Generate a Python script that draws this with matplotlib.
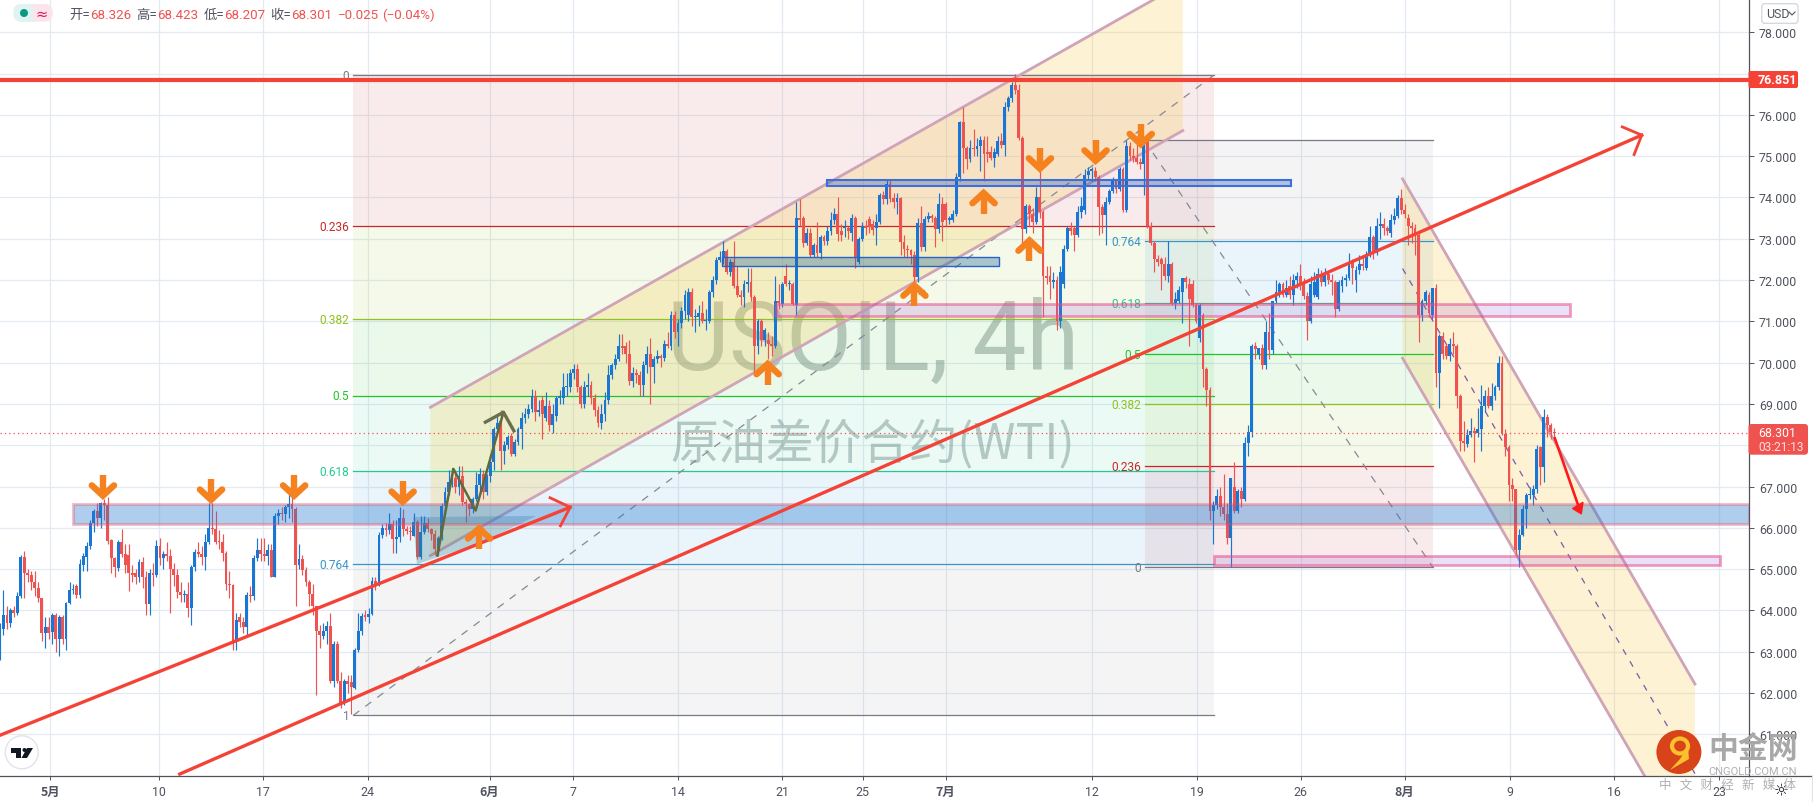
import matplotlib
matplotlib.use("Agg")
import matplotlib.pyplot as plt
from matplotlib.lines import Line2D
from matplotlib.patches import Ellipse, FancyBboxPatch, Polygon, Rectangle
from matplotlib.transforms import IdentityTransform

W, H = 1813, 803

# candles, one row = 10 bars (4h)
opens = [
    62.95,63.55,63.9,63.7,64.0,63.95,64.35,65.3,64.9,64.85,
    64.7,64.55,64.3,63.45,63.6,63.47,63.9,63.3,63.85,63.3,
    64.18,64.5,64.6,64.38,65.1,65.3,65.57,66.13,66.4,66.25,
    66.6,66.55,65.7,65.28,65.02,65.65,65.38,65.35,64.9,64.9,
    64.8,65.18,64.8,64.16,64.92,64.85,65.57,65.27,65.37,65.33,
    65.0,64.85,64.45,64.38,64.4,64.05,65.05,65.42,65.37,65.3,
    65.66,66.0,65.97,65.67,65.65,65.4,64.65,64.62,63.27,63.85,
    63.72,63.6,64.38,64.35,65.26,65.46,65.37,65.33,65.46,64.82,
    66.3,66.37,66.33,66.5,66.57,66.45,65.1,65.25,64.97,64.7,
    64.4,64.1,63.5,63.38,63.5,63.62,62.3,63.2,62.3,61.77,
    62.3,62.28,62.12,63.05,63.5,63.87,63.85,63.92,64.72,64.65,
    65.83,66.0,65.95,66.1,65.72,65.78,66.23,65.97,65.93,65.8,
    66.15,65.3,65.9,66.13,65.97,65.85,65.45,65.75,66.52,66.86,
    67.1,67.2,66.98,67.25,66.62,66.58,66.45,66.7,67.03,67.3,
    66.88,67.25,67.6,68.4,68.6,67.87,68.0,68.22,67.8,68.07,
    68.4,68.65,68.75,68.88,69.2,68.8,69.1,68.67,68.95,68.5,
    68.72,69.15,69.15,69.4,69.4,69.75,69.85,69.4,69.0,69.4,
    69.45,69.15,68.85,68.55,68.75,69.1,69.7,69.95,70.1,70.4,
    70.4,70.2,69.55,69.75,69.7,69.45,69.95,70.2,69.9,70.1,
    70.15,70.12,70.45,70.4,71.15,70.75,70.95,71.25,71.15,71.7,
    71.1,71.1,71.2,71.0,71.0,71.72,72.0,72.48,72.55,72.7,
    72.2,72.45,71.85,71.65,71.6,71.9,71.95,71.6,70.4,71.0,
    70.55,70.55,70.45,70.4,71.5,71.42,72.1,71.9,71.9,71.4,
    73.5,73.5,72.9,73.15,72.6,72.85,72.65,73.05,72.95,73.2,
    73.45,73.6,73.2,73.25,73.25,73.15,73.5,72.45,73.0,73.3,
    73.47,73.35,73.25,73.4,74.05,73.97,74.33,73.98,73.9,73.98,
    72.92,72.75,72.72,72.6,72.07,73.38,72.8,73.47,73.55,73.5,
    73.23,73.85,73.85,73.45,73.45,73.6,74.5,75.83,75.2,74.93,
    75.2,75.18,75.25,75.4,75.1,75.1,74.95,75.05,75.37,75.27,
    76.18,76.4,76.72,76.6,75.45,73.24,73.8,73.6,73.4,74.0,
    73.65,72.1,72.1,71.95,72.0,71.02,71.9,72.75,73.25,73.25,
    73.1,73.65,73.7,74.55,74.65,74.65,74.5,73.78,73.57,73.9,
    74.15,74.4,74.2,74.7,73.7,75.25,75.0,74.95,74.85,74.8,
    75.37,73.3,72.9,72.5,72.5,72.4,72.1,72.4,71.45,71.5,
    71.7,72.05,71.9,71.9,71.4,70.6,71.15,69.85,69.35,66.4,
    66.55,66.77,66.5,66.33,65.75,67.0,66.4,66.9,66.7,68.05,
    68.33,70.4,70.2,70.35,69.95,70.75,70.3,71.5,71.7,71.9,
    71.65,71.85,71.65,72.0,72.1,71.9,71.62,71.0,71.65,71.6,
    72.15,71.95,72.15,72.0,71.95,71.3,71.85,72.0,72.05,72.45,
    72.0,72.25,72.4,72.3,72.6,73.05,72.65,73.3,73.37,73.25,
    73.15,73.45,73.55,73.98,73.7,73.5,73.3,73.25,73.1,71.15,
    71.5,71.65,71.15,71.8,69.75,70.65,70.4,70.15,70.45,70.4,
    69.2,68.1,68.03,68.25,68.35,68.3,68.4,68.95,69.2,68.95,
    69.2,69.4,70.0,68.27,67.97,67.05,66.93,65.47,65.83,66.45,
    66.8,66.8,66.95,67.95,67.47,68.68,68.5,68.326,
]
highs = [
    63.7,64.5,64.1,64.05,64.1,64.45,65.35,65.45,65.0,64.95,
    64.95,64.7,64.3,63.85,63.85,63.95,63.95,63.9,63.9,64.2,
    64.7,64.65,64.65,65.25,65.4,65.65,66.2,66.45,66.6,66.62,
    66.7,66.75,65.72,65.3,65.7,65.98,65.6,65.6,65.1,65.0,
    65.25,65.3,64.95,65.0,65.15,65.7,65.75,65.45,65.65,65.5,
    65.15,65.0,64.7,64.5,64.7,65.1,65.5,65.65,65.55,65.85,
    66.6,66.6,66.42,65.95,65.85,65.45,64.95,64.65,63.95,63.95,
    63.85,64.45,64.6,65.35,65.75,65.75,65.75,65.6,65.6,66.35,
    66.45,66.5,66.55,67.0,66.9,66.5,65.6,65.35,65.05,64.75,
    64.65,64.12,63.65,63.7,63.75,63.95,63.25,63.25,62.5,62.35,
    62.45,62.45,63.1,63.95,63.95,64.0,64.05,64.8,64.8,65.9,
    66.1,66.12,66.35,66.2,66.2,66.5,66.45,66.05,66.05,66.35,
    66.2,66.3,66.3,66.25,66.0,65.95,65.8,66.6,67.0,67.4,
    67.45,67.3,67.5,67.5,66.7,66.6,66.75,67.35,67.45,67.4,
    67.3,67.75,68.45,68.75,68.85,68.1,68.25,68.3,68.15,68.45,
    68.8,68.9,69.0,69.37,69.35,69.1,69.2,69.3,69.1,69.0,
    69.2,69.35,69.75,69.75,69.85,69.98,69.98,69.45,69.55,69.75,
    69.55,69.25,68.95,69.0,69.3,69.95,70.0,70.2,70.7,70.7,
    70.5,70.55,69.9,69.85,69.8,70.05,70.4,70.6,70.15,70.3,
    70.2,70.55,70.75,71.25,71.25,71.05,71.35,71.75,71.8,71.8,
    71.3,71.4,71.5,71.3,71.75,72.1,72.55,72.7,72.95,72.75,
    72.5,72.95,72.35,71.75,72.0,72.3,72.3,71.65,71.05,71.05,
    70.85,70.75,70.65,72.1,71.9,71.95,72.4,72.0,71.95,73.9,
    73.96,73.55,73.25,73.25,72.9,73.4,73.1,73.1,73.3,73.65,
    73.75,74.0,73.35,73.45,73.3,73.6,73.55,73.05,73.4,73.45,
    73.55,73.45,73.6,74.1,74.15,74.45,74.45,74.1,74.1,74.0,
    73.1,72.85,72.75,72.7,73.5,73.8,73.55,73.65,73.6,73.55,
    74.1,74.0,73.9,73.55,73.7,74.6,75.85,76.2,75.25,75.4,
    75.65,75.45,75.5,75.5,75.5,75.25,75.2,75.5,75.55,76.3,
    76.45,76.8,76.98,76.75,75.5,73.85,73.85,73.75,74.25,74.85,
    73.7,72.35,72.35,72.2,72.1,72.35,72.85,73.3,73.4,73.3,
    73.8,74.0,74.7,74.75,74.75,74.75,74.55,73.85,74.0,74.2,
    74.5,74.45,74.75,74.75,75.4,75.35,75.2,75.5,74.95,75.4,
    75.4,73.4,72.95,72.6,72.55,72.55,72.95,72.45,71.7,71.85,
    72.05,72.1,72.05,72.0,71.45,71.45,71.2,69.9,69.4,66.65,
    66.95,67.0,67.3,66.6,67.2,67.6,66.95,67.0,68.2,68.5,
    70.45,70.5,70.35,70.45,71.0,71.2,71.5,72.0,71.95,71.95,
    72.0,72.1,72.15,72.2,72.4,72.05,71.7,72.1,72.2,72.3,
    72.25,72.3,72.2,72.15,72.0,72.0,72.1,72.15,72.65,72.5,
    72.35,72.6,72.55,72.7,73.3,73.1,73.5,73.65,73.5,73.3,
    73.6,73.75,74.05,74.2,73.85,73.6,73.4,73.35,73.15,71.55,
    71.75,71.7,71.8,71.9,70.7,70.75,70.45,70.6,70.75,70.45,
    69.25,68.6,68.4,68.65,68.45,68.9,69.45,69.35,69.4,69.5,
    69.45,70.15,70.15,68.4,68.0,67.2,66.95,65.98,66.55,66.85,
    67.0,67.05,68.0,67.98,68.88,68.75,68.55,68.423,
]
lows = [
    62.8,63.4,63.55,63.6,63.85,63.9,64.3,64.3,64.7,64.5,
    64.35,64.2,63.25,63.1,63.3,63.2,63.0,62.9,63.2,63.05,
    64.15,64.4,64.3,64.3,64.95,64.95,65.5,65.9,66.05,66.0,
    66.2,65.6,64.9,64.8,64.95,65.3,64.9,64.48,64.7,64.65,
    64.7,64.55,63.9,63.88,64.6,64.8,65.1,65.0,65.2,63.95,
    64.6,64.3,64.2,64.2,63.85,63.66,64.95,65.3,65.1,64.97,
    65.6,65.85,65.62,65.5,65.2,64.5,64.3,63.05,63.05,63.6,
    63.45,63.4,64.2,64.25,65.2,65.2,65.2,65.1,64.8,64.8,
    66.1,66.2,66.15,66.25,66.15,64.1,65.0,64.85,64.6,64.1,
    63.9,61.95,63.1,63.3,63.2,62.25,62.15,62.25,61.65,61.7,
    62.0,61.5,62.1,63.0,63.4,63.75,63.7,63.9,64.5,64.6,
    65.75,65.8,65.85,65.4,65.4,65.65,65.8,65.85,65.7,65.8,
    65.25,65.25,65.85,65.9,65.7,65.35,65.35,65.7,66.4,66.8,
    67.0,66.85,66.8,66.55,66.15,66.3,66.35,66.65,66.9,66.7,
    66.8,67.1,67.4,68.3,67.4,67.55,67.9,67.75,67.75,68.0,
    67.9,68.55,68.65,68.8,68.6,68.7,68.15,68.6,68.35,68.3,
    68.6,69.0,69.0,69.2,69.3,69.6,69.3,68.9,68.9,69.2,
    69.0,68.7,68.45,68.4,68.6,69.0,69.6,69.85,70.05,70.2,
    70.0,69.45,69.4,69.5,69.2,69.2,69.75,69.0,69.5,70.0,
    69.9,70.05,70.35,70.3,70.6,70.4,70.85,71.05,71.0,70.9,
    70.75,70.9,70.95,70.8,70.95,71.6,71.9,72.45,72.4,72.15,
    72.1,71.8,71.6,71.4,71.35,71.7,71.5,69.75,70.2,70.4,
    70.4,70.1,70.15,70.35,71.3,71.35,71.85,71.75,71.4,71.15,
    73.3,72.8,72.85,72.55,72.55,72.55,72.5,72.85,72.85,73.1,
    73.35,72.95,72.95,73.05,73.0,72.95,72.3,72.4,72.95,73.1,
    73.15,73.1,72.85,73.35,73.85,73.85,73.9,73.75,73.6,72.6,
    72.55,72.55,72.4,71.95,71.95,72.7,72.7,73.4,73.4,72.8,
    73.15,72.95,73.3,73.35,73.4,73.55,74.4,74.6,74.7,74.85,
    75.0,75.0,74.65,74.4,74.85,74.9,74.75,75.0,75.2,75.0,
    76.1,76.3,76.5,75.4,72.9,73.15,73.3,73.15,73.35,73.5,
    71.1,71.9,71.55,71.8,70.8,70.85,71.8,72.7,73.1,72.7,
    73.05,73.5,73.6,74.45,74.4,74.4,73.1,73.15,72.85,73.85,
    74.1,74.1,74.15,73.65,73.65,74.9,74.85,74.8,74.7,74.05,
    73.25,72.85,72.2,72.35,71.75,72.0,71.95,71.4,71.3,71.45,
    70.95,71.8,70.4,71.35,70.95,70.5,69.4,68.95,66.2,65.6,
    66.45,66.3,66.2,65.6,65.05,66.35,66.35,66.5,66.65,67.75,
    68.2,70.1,70.1,69.85,69.85,70.1,70.2,71.45,71.6,71.6,
    71.6,71.55,71.4,71.8,71.75,71.55,70.55,70.95,71.6,71.55,
    71.85,71.85,71.9,71.65,71.1,71.25,71.7,71.85,72.0,71.9,
    71.7,72.15,72.25,72.25,72.55,72.5,72.6,73.0,73.1,73.1,
    73.05,73.35,73.5,73.6,73.5,72.85,72.9,72.6,70.5,71.0,
    71.4,71.1,71.05,69.4,68.9,70.1,70.1,70.05,70.2,68.9,
    67.85,67.85,67.95,68.2,67.6,68.2,67.85,68.8,68.9,68.85,
    69.1,69.35,68.25,67.75,66.65,66.65,65.35,65.05,65.8,66.0,
    66.7,66.55,66.85,67.05,67.1,68.2,68.15,68.207,
]
closes = [
    63.65,63.9,63.7,64.0,63.95,64.35,65.3,64.9,64.85,64.7,
    64.55,64.3,63.45,63.6,63.45,63.9,63.32,63.85,63.3,64.18,
    64.5,64.5,64.38,65.12,65.32,65.57,66.13,66.4,66.25,66.6,
    66.55,65.68,65.28,65.05,65.65,65.38,65.1,64.9,64.85,64.8,
    65.18,64.8,64.16,64.92,64.85,65.57,65.27,65.37,65.33,65.0,
    64.85,64.45,64.38,64.4,64.05,65.05,65.42,65.37,65.3,65.66,
    66.0,65.97,65.67,65.65,65.4,64.65,64.62,63.27,63.78,63.72,
    63.6,64.38,64.35,65.26,65.46,65.37,65.33,65.46,64.82,66.3,
    66.37,66.33,66.5,66.57,66.45,65.1,65.25,64.97,64.7,64.4,
    64.1,63.5,63.4,63.5,63.62,62.3,63.2,62.3,61.77,62.3,
    62.22,62.15,63.05,63.5,63.87,63.85,63.92,64.72,64.65,65.83,
    66.0,65.95,66.1,65.72,65.78,66.23,65.97,65.93,65.9,66.15,
    65.3,65.9,66.13,65.97,65.85,65.5,65.75,66.52,66.86,67.1,
    67.2,66.98,67.25,66.62,66.58,66.45,66.7,67.03,67.3,66.88,
    67.25,67.6,68.4,68.55,67.87,68.0,68.2,67.8,68.07,68.4,
    68.65,68.75,68.88,69.2,68.8,68.85,68.75,68.95,68.5,68.75,
    69.15,69.2,69.4,69.4,69.75,69.85,69.4,69.0,69.4,69.45,
    69.15,68.85,68.55,68.75,69.1,69.7,69.95,70.1,70.4,70.35,
    70.2,69.55,69.75,69.7,69.45,69.95,70.2,69.9,70.1,70.15,
    70.12,70.45,70.4,71.15,70.75,70.95,71.25,71.65,71.7,71.1,
    71.1,71.2,71.0,71.0,71.72,72.0,72.48,72.55,72.7,72.2,
    72.45,71.85,71.65,71.6,71.9,71.95,71.6,70.4,71.0,70.55,
    70.8,70.45,70.4,71.5,71.45,71.9,71.9,71.9,71.42,73.5,
    73.45,72.9,73.15,72.6,72.85,72.65,73.05,72.95,73.2,73.45,
    73.6,73.12,73.1,73.25,73.2,73.5,72.55,73.0,73.3,73.25,
    73.28,73.22,73.4,74.05,73.97,74.33,73.97,73.9,73.98,72.92,
    72.75,72.72,72.6,72.07,73.38,72.8,73.47,73.55,73.5,73.23,
    73.85,73.4,73.45,73.5,73.6,74.5,75.83,75.2,74.93,75.2,
    75.18,75.25,75.4,75.05,75.05,74.95,75.1,75.37,75.27,76.18,
    76.4,76.72,76.6,75.45,73.24,73.8,73.6,73.4,74.0,73.65,
    72.1,72.05,71.95,72.0,71.02,72.2,72.75,73.25,73.2,73.1,
    73.65,73.8,74.55,74.65,74.65,74.5,73.78,73.57,73.9,74.15,
    74.4,74.2,74.7,73.7,75.25,75.0,74.95,74.85,74.8,75.37,
    73.3,72.9,72.5,72.45,72.4,72.1,72.4,71.45,71.55,71.75,
    72.05,71.95,71.55,71.4,71.0,71.4,69.85,69.35,66.4,66.55,
    66.77,66.5,66.33,65.75,67.2,66.4,66.9,66.7,68.05,68.33,
    70.4,70.32,70.35,69.95,70.75,70.3,71.5,71.7,71.9,71.65,
    71.8,71.65,72.0,72.1,71.9,71.62,71.0,71.9,71.95,72.15,
    71.95,72.15,72.0,71.95,71.3,71.95,72.0,72.05,72.45,72.3,
    72.25,72.4,72.35,72.6,73.05,72.7,73.3,73.37,73.25,73.2,
    73.45,73.55,73.98,73.7,73.6,73.3,73.25,73.1,71.15,71.5,
    71.7,71.2,71.8,69.75,70.65,70.2,70.15,70.45,70.4,69.2,
    68.1,68.05,68.25,68.35,68.3,68.4,68.95,69.2,68.95,69.2,
    69.4,70.0,68.3,67.97,67.05,66.93,65.47,65.83,66.45,66.8,
    66.8,66.95,67.92,67.47,68.68,68.48,68.33,68.301,
]

# time axis, positions are bar numbers
time_ticks = [14.5,45.7,75.7,105.7,140.8,164.9,194.9,225.05,248.1,272.0,314.2,344.3,374.1,404.0,434.3,464.3,494.5]
time_labels = ["5月","10","17","24","6月","7","14","21","25","7月","12","19","26","8月","9","16","23"]
price_ticks = list(range(61, 79))

# fibonacci retracements
fib_ratios = ["0", "0.236", "0.382", "0.5", "0.618", "0.764", "1"]
fib_line_colors = ["#787b86", "#c62828", "#8fc31f", "#22c32a", "#22c995", "#3a94c8", "#787b86"]
fib_fill_colors = ["#c8444e", "#a5c92a", "#22c32a", "#22c995", "#3a94d8", "#8c8f99"]
fib_fill_alpha = [0.1, 0.1, 0.09, 0.09, 0.1, 0.09]
fib_left_levels = [76.96, 73.30, 71.05, 69.20, 67.37, 65.12, 61.46]
fib_right_levels = [65.05, 67.49, 68.99, 70.20, 71.44, 72.94, 75.38]
fib_left_span = [101.6, 349.1]
fib_right_span = [329.2, 412.1]

# orange markers (tip position)
arrows_down = [(29.6,66.70),(60.7,66.60),(84.6,66.70),(115.8,66.55),(299.1,74.62),(315.1,74.81),(328.1,75.21)]
arrows_up = [(137.8,66.07),(220.8,70.05),(263.0,71.95),(282.9,74.19),(296.1,73.04)]

FONT = ["Roboto", "Noto Sans CJK SC", "DejaVu Sans"]
CJK = ["Noto Sans CJK SC", "DejaVu Sans"]
UP = "#1976d2"
DOWN = "#ef5350"
AXIS = "#50535e"
plt.rcParams["font.family"] = FONT


def fx(px):
    return px / W


def fy(py):
    return 1 - py / H


def rounded(fig, x0, y0, x1, y1, radius, face, edge="none", lw=0, zorder=8):
    # box given in picture pixels, y from the top
    fig.add_artist(FancyBboxPatch((x0, H - y1), x1 - x0, y1 - y0,
                                  boxstyle="round,pad=0,rounding_size=%s" % radius,
                                  transform=IdentityTransform(), facecolor=face, edgecolor=edge, lw=lw, zorder=zorder))


def draw_fib(ax, span, levels, label_side_x):
    for i in range(len(fib_fill_colors)):
        ax.fill_between(span, levels[i], levels[i + 1], color=fib_fill_colors[i], alpha=fib_fill_alpha[i],
                        lw=0, zorder=1.6)
    for i, lev in enumerate(levels):
        ax.plot(span, [lev, lev], color=fib_line_colors[i], lw=0.9, zorder=2.2)
        if lev != 75.38:
            ax.text(label_side_x, lev, fib_ratios[i], color=fib_line_colors[i], fontsize=8.6,
                    ha="right", va="center", zorder=2.2)


def zone(ax, x0, x1, v0, v1, face, edge, lw):
    ax.add_patch(Rectangle((x0, v0), x1 - x0, v1 - v0, facecolor=face, edgecolor=edge, lw=lw, zorder=4))


def orange(ax, tip, direction):
    x, v = tip
    ax.plot([x, x], [v + direction * 0.06, v + direction * 0.58], color="#f5811f", lw=4.6,
            solid_capstyle="butt", zorder=6)
    ax.plot([x - 3.2, x, x + 3.2], [v + direction * 0.33, v + direction * 0.08, v + direction * 0.33],
            color="#f5811f", lw=4.6, solid_capstyle="round", solid_joinstyle="miter", zorder=6)


fig = plt.figure(figsize=(W / 100, H / 100), dpi=100, facecolor="white")
ax = fig.add_axes([0, 1 - 776.7 / H, 1748.5 / W, 776.7 / H])
ax.set_xlim(0, 502.9)
ax.set_ylim(60, 78.806)
ax.set_facecolor("white")
ax.set_axisbelow(True)
ax.grid(True, color="#e3eaf1", lw=0.9)
for s in ["top", "left"]:
    ax.spines[s].set_visible(False)
for s in ["bottom", "right"]:
    ax.spines[s].set_color(AXIS)
    ax.spines[s].set_linewidth(0.9)

ax.yaxis.tick_right()
ax.set_yticks(price_ticks)
# 68.000 sits behind the last-price tag in the reference
ax.set_yticklabels(["" if p == 68 else "%.3f" % p for p in price_ticks], fontsize=8.9, color=AXIS)
ax.set_xticks(time_ticks)
ax.set_xticklabels(time_labels, fontsize=8.9, color=AXIS)
ax.tick_params(axis="y", length=3.5, width=0.7, color=AXIS, pad=4)
ax.tick_params(axis="x", length=3, width=0.7, color=AXIS, pad=4)
for lab in ax.get_xticklabels():
    if "月" in lab.get_text():
        lab.set_fontweight("bold")
        lab.set_family(CJK)

# watermark
ax.text(251, 70.49, "USOIL, 4h", fontsize=69, color="#7c8a88", alpha=0.47, ha="center", va="center", zorder=1.5)
ax.text(251, 68.05, "原油差价合约(WTI)", fontsize=34.5, color="#7c8a88", alpha=0.47, ha="center", va="center",
        family=CJK, zorder=1.5)

draw_fib(ax, fib_left_span, fib_left_levels, 100.4)
draw_fib(ax, fib_right_span, fib_right_levels, 328.2)
ax.plot([101.6, 349.1], [61.46, 76.96], color="#868993", lw=0.9, ls=(0, (6, 6)), zorder=2.2)
ax.plot([329.2, 412.1], [75.38, 65.05], color="#868993", lw=0.9, ls=(0, (6, 6)), zorder=2.2)

# rising channel
ax.add_patch(Polygon([(123.8, 68.92), (340.2, 79.19), (340.2, 75.62), (123.8, 65.33)], closed=True,
                     facecolor="#f7c948", alpha=0.24, lw=0, zorder=2))
ax.plot([123.8, 340.2], [68.92, 79.19], color="#cfa3b8", lw=2.0, zorder=2.4)
ax.plot([123.8, 340.2], [65.33, 75.62], color="#cfa3b8", lw=2.0, zorder=2.4)

# falling channel
ax.add_patch(Polygon([(403.4, 74.45), (487.5, 62.22), (487.5, 57.89), (403.4, 70.11)], closed=True,
                     facecolor="#f7c948", alpha=0.24, lw=0, zorder=2))
ax.plot([403.4, 487.5], [74.45, 62.22], color="#cfa3b8", lw=2.0, zorder=2.4)
ax.plot([403.4, 487.5], [70.11, 57.89], color="#cfa3b8", lw=2.0, zorder=2.4)
ax.plot([403.4, 487.5], [72.28, 60.05], color="#7e57a8", lw=0.9, ls=(0, (5, 6)), zorder=2.4)

# candles
assert len(opens) == len(highs) == len(lows) == len(closes)
bar_x = list(range(len(opens)))
bar_colors = [UP if c >= o else DOWN for o, c in zip(opens, closes)]
ax.vlines(bar_x, lows, highs, colors=bar_colors, lw=0.85, zorder=3)
ax.bar(bar_x, [max(abs(c - o), 0.03) for o, c in zip(opens, closes)], width=0.82,
       bottom=[min(o, c) for o, c in zip(opens, closes)], color=bar_colors, lw=0, zorder=3.1)

# zones
ax.add_patch(Polygon([(118.8, 66.26), (154.2, 66.29), (138.6, 65.65), (119.9, 65.12)], closed=True,
                     facecolor="#3a7f8c", alpha=0.3, lw=0, zorder=3.5))
zone(ax, 20.9, 502.9, 66.10, 66.58, (0.13, 0.47, 0.82, 0.36), (0.91, 0.3, 0.4, 0.35), 2.2)
zone(ax, 237.9, 371.3, 74.29, 74.42, (0.15, 0.35, 0.65, 0.33), "#3d6fdc", 1.5)
zone(ax, 207.8, 287.3, 72.35, 72.55, (0.1, 0.4, 0.6, 0.35), "#2a62c9", 1.0)
zone(ax, 223.2, 451.5, 71.13, 71.41, (0.6, 0.4, 0.85, 0.2), (0.91, 0.3, 0.55, 0.55), 2.0)
zone(ax, 349.1, 494.8, 65.10, 65.31, (0.6, 0.4, 0.85, 0.2), (0.91, 0.3, 0.55, 0.55), 2.0)

# red trend lines
RED = "#f44336"
ax.plot([0, 164.0], [60.98, 66.50], color=RED, lw=2.4, zorder=5)
ax.plot([158.2, 164.0, 161.2], [66.73, 66.50, 66.05], color=RED, lw=2.0, zorder=5)
ax.plot([51.7, 472.2], [60.04, 75.51], color=RED, lw=2.4, zorder=5)
ax.plot([466.6, 472.2, 470.0], [75.71, 75.51, 75.04], color=RED, lw=2.0, zorder=5)
ax.axhline(76.851, color=RED, lw=3.0, zorder=5)
ax.axhline(68.301, color=DOWN, lw=0.9, ls=(0, (1, 2.5)), zorder=5)

# olive arrow
ax.plot([125.8, 130.4, 136.8, 144.8], [65.33, 67.43, 66.42, 68.80], color="#5e6a3c", lw=1.8, zorder=5)
ax.plot([139.6, 144.8, 147.8], [68.56, 68.80, 68.35], color="#6b6f4e", lw=2.4, zorder=5)

# last red arrow
ax.plot([447.2, 453.9], [68.17, 66.55], color="#ff1a1a", lw=1.9, zorder=5)
ax.add_patch(Polygon([(452.3, 66.47), (455.3, 66.62), (454.8, 66.34)], closed=True, color="#ff1a1a", zorder=5))

for tip in arrows_down:
    orange(ax, tip, 1)
for tip in arrows_up:
    orange(ax, tip, -1)

# header
rounded(fig, 13.4, 5, 40, 22.7, 8, "#e0f2f1")
rounded(fig, 26, 5, 52.8, 22.7, 8, "#fce4ec")
fig.add_artist(Rectangle((fx(20), fy(22.7)), 13 / W, 17.7 / H, transform=fig.transFigure, facecolor="#e0f2f1",
                         lw=0, zorder=9))
fig.add_artist(Ellipse((fx(24), fy(14)), 8 / W, 8 / H, transform=fig.transFigure, facecolor="#089981", lw=0, zorder=10))
fig.text(fx(42), fy(14.5), "≈", color="#d81b60", fontsize=10.5, ha="center", va="center", family="DejaVu Sans", zorder=10)
header = [(69, "开=", AXIS), (90, "68.326", DOWN), (136, "高=", AXIS), (157, "68.423", DOWN),
          (203.6, "低=", AXIS), (224, "68.207", DOWN), (270.6, "收=", AXIS), (291, "68.301", DOWN),
          (337.5, "−0.025", DOWN), (382, "(−0.04%)", DOWN)]
for px, txt, col in header:
    fig.text(fx(px), fy(15.5), txt, color=col, fontsize=9.6, ha="left", va="center")

# price scale tags and button
rounded(fig, 1748.5, 72, 1798, 89, 2, RED)
fig.text(fx(1758), fy(80.5), "76.851", color="white", fontsize=8.9, fontweight="bold", va="center", zorder=9)
rounded(fig, 1748.5, 425, 1808, 455.7, 3, DOWN)
fig.text(fx(1758), fy(433.5), "68.301", color="white", fontsize=8.9, va="center", zorder=9)
fig.text(fx(1758), fy(448), "03:21:13", color="#ffe0e0", fontsize=8.6, va="center", zorder=9)
rounded(fig, 1761.8, 4.7, 1798, 24.3, 3, "white", edge="#d1d4dc", lw=0.9)
fig.text(fx(1766), fy(14.5), "USD", color=AXIS, fontsize=8.9, va="center", zorder=9)
fig.add_artist(Line2D([fx(1789), fx(1792), fx(1795)], [fy(13), fy(16), fy(13)], color=AXIS, lw=0.8, zorder=9))
fig.add_artist(Line2D([fx(1748.5), fx(1812)], [fy(776.7), fy(776.7)], color=AXIS, lw=0.9))
fig.add_artist(Line2D([fx(1812), fx(1812)], [fy(776.7), fy(803)], color="#e0e3eb", lw=0.8))
fig.text(fx(1781), fy(791), "☼", color="#131722", fontsize=12, ha="center", va="center", family="DejaVu Sans", zorder=9)

# TradingView badge
fig.add_artist(Ellipse((fx(21.8), fy(753.3)), 33 / W, 33 / H, transform=fig.transFigure,
                       facecolor="white", edgecolor="#e0e3eb", lw=1.0, zorder=8))
for pts in ([(11, 749), (21, 749), (21, 759), (16, 759), (16, 754), (11, 754)],
            [(27, 749), (33, 749), (27, 759), (21.5, 759)]):
    fig.add_artist(Polygon([(fx(a), fy(b)) for a, b in pts], closed=True, transform=fig.transFigure,
                           facecolor="#131722", lw=0, zorder=9))
fig.add_artist(Ellipse((fx(24.5), fy(751)), 4 / W, 4 / H, transform=fig.transFigure, facecolor="#131722", lw=0, zorder=9))

# site logo
fig.add_artist(Ellipse((fx(1678.9), fy(753)), 45 / W, 44 / H, transform=fig.transFigure,
                       facecolor="#d8431a", lw=0, zorder=8))
fig.add_artist(Ellipse((fx(1680), fy(747)), 16 / W, 15 / H, transform=fig.transFigure,
                       facecolor="none", edgecolor="#fbc02d", lw=3.0, zorder=9))
fig.add_artist(Polygon([(fx(1688), fy(748)), (fx(1689), fy(760)), (fx(1670), fy(771)), (fx(1680), fy(760))],
                       closed=True, transform=fig.transFigure, facecolor="#fbc02d", lw=0, zorder=9))
fig.text(fx(1752.7), fy(749), "中金网", color="#a8a8a8", fontsize=21.5, fontweight="bold", ha="center", va="center",
         family=CJK, zorder=9)
fig.text(fx(1752.7), fy(772), "CNGOLD.COM.CN", color="#b0b0b0", fontsize=8, ha="center", va="center", zorder=9)
fig.text(fx(1727.5), fy(785), "中   文   财   经   新   媒   体", color="#b0b0b0", fontsize=9, ha="center", va="center",
         family=CJK, zorder=9)

fig.savefig("out.png", dpi=100, facecolor="white")
